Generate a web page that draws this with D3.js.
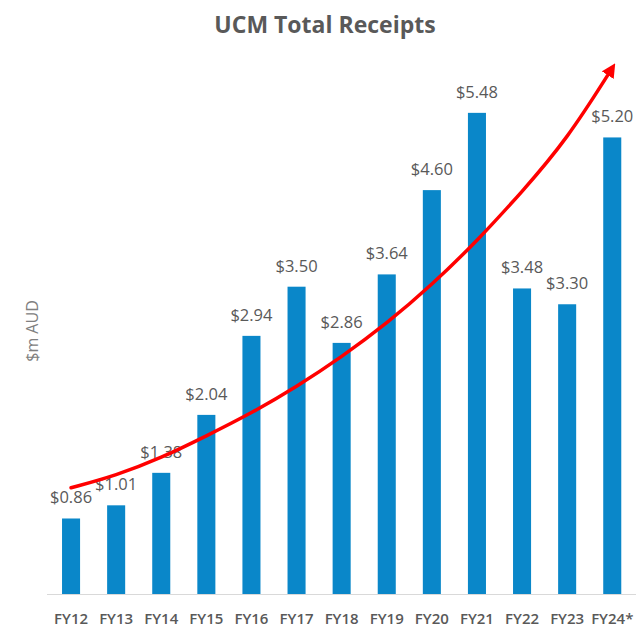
<!DOCTYPE html>
<html>
<head>
<meta charset="utf-8">
<script src="https://cdn.jsdelivr.net/npm/d3@7"></script>
<style>
  body { margin: 0; background: #fff; }
  text { font-family: "Open Sans", sans-serif; }
</style>
</head>
<body>
<div id="chart"></div>
<script>
// values
const years = ["FY12","FY13","FY14","FY15","FY16","FY17","FY18","FY19","FY20","FY21","FY22","FY23","FY24*"];
const receipts = [0.86, 1.01, 1.38, 2.04, 2.94, 3.50, 2.86, 3.64, 4.60, 5.48, 3.48, 3.30, 5.20];
// hand-drawn trend arrow, value at each year
const trend = [1.21, 1.35, 1.55, 1.80, 2.06, 2.36, 2.70, 3.08, 3.52, 4.02, 4.58, 5.18, 5.99];

const width = 636, height = 630;
const fmt = d => "$" + d.toFixed(2);

const svg = d3.select("#chart").append("svg")
  .attr("width", width).attr("height", height);

const x = d3.scaleBand()
  .domain(years)
  .range([48.5, 634.8])
  .paddingInner(0.6)
  .paddingOuter(0.3);

const y = d3.scaleLinear()
  .domain([0, 6])
  .range([594, 67.2]);

const data = years.map((k, i) => ({year: k, value: receipts[i], trend: trend[i]}));

// title
svg.append("text")
  .attr("x", 325).attr("y", 33)
  .attr("text-anchor", "middle")
  .attr("font-size", 23).attr("font-weight", 700)
  .attr("fill", "#595959")
  .text("UCM Total Receipts");

// y label
svg.append("text")
  .attr("transform", "translate(38,331) rotate(-90)")
  .attr("text-anchor", "middle")
  .attr("font-size", 16)
  .attr("fill", "#808080")
  .text("$m AUD");

// bars
svg.selectAll("rect.bar")
  .data(data)
  .enter().append("rect")
  .attr("class", "bar")
  .attr("x", d => x(d.year))
  .attr("width", x.bandwidth())
  .attr("y", d => y(d.value))
  .attr("height", d => y(0) - y(d.value))
  .attr("fill", "#0a87c9");

// baseline
svg.append("line")
  .attr("x1", 47).attr("x2", width)
  .attr("y1", y(0) + 0.5).attr("y2", y(0) + 0.5)
  .attr("stroke", "#d9d9d9").attr("stroke-width", 1);

// value labels
svg.selectAll(".val-label")
  .data(data)
  .enter().append("text")
  .attr("class", "val-label")
  .attr("x", d => x(d.year) + x.bandwidth() / 2)
  .attr("y", d => y(d.value) - 15)
  .attr("text-anchor", "middle")
  .attr("font-size", 16.5)
  .attr("fill", "#595959")
  .text(d => fmt(d.value));

// category labels
svg.selectAll(".cat-label")
  .data(data)
  .enter().append("text")
  .attr("class", "cat-label")
  .attr("x", d => x(d.year) + x.bandwidth() / 2)
  .attr("y", 624)
  .attr("text-anchor", "middle")
  .attr("font-size", 15).attr("font-weight", 600)
  .attr("fill", "#595959")
  .text(d => d.year);

// red trend arrow
svg.append("defs").append("marker")
  .attr("id", "head")
  .attr("viewBox", "0 0 10 10")
  .attr("refX", 6).attr("refY", 5)
  .attr("markerWidth", 4).attr("markerHeight", 4)
  .attr("orient", "auto")
  .append("path")
  .attr("d", "M0,0 L10,5 L0,10 Z")
  .attr("fill", "#ff0000");

const line = d3.line()
  .x(d => x(d.year) + x.bandwidth() / 2)
  .y(d => y(d.trend))
  .curve(d3.curveBasis);

svg.append("path")
  .datum(data)
  .attr("d", line)
  .attr("fill", "none")
  .attr("stroke", "#ff0000")
  .attr("stroke-width", 3.5)
  .attr("stroke-linecap", "round")
  .attr("marker-end", "url(#head)");
</script>
</body>
</html>
